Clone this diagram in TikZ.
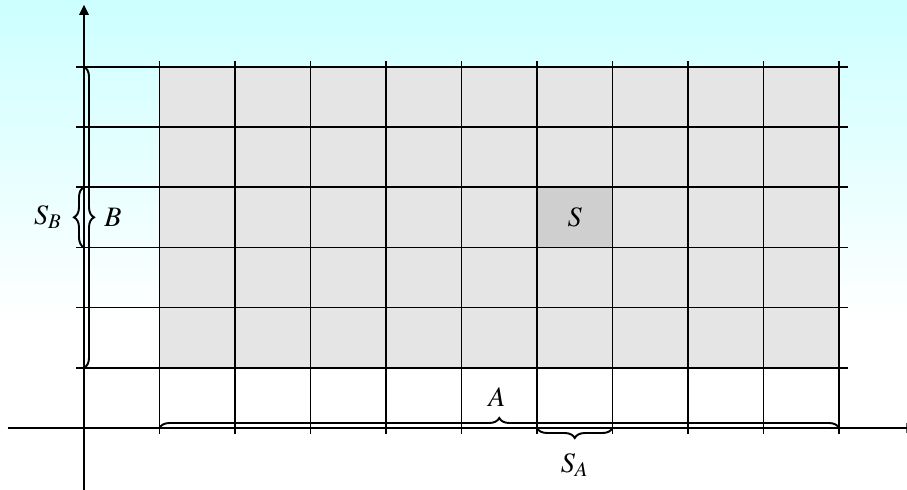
\documentclass[tikz,border=0pt]{standalone}
\usepackage{mathptmx}
\usetikzlibrary{decorations.pathreplacing,arrows.meta}
\begin{document}
\begin{tikzpicture}[x=1.51cm,y=1.204cm,
		gridline/.style={line width=0.8pt},
		axisline/.style={line width=0.8pt},
		bracedeco/.style={decorate,decoration={brace,amplitude=5.7pt},line width=1.1pt},
		lab/.style={font=\fontsize{16}{18}\selectfont}]
		\useasboundingbox (-1.1126,-1.0133) rectangle (10.9007,7.1096);
		\clip (-1.1126,-1.0133) rectangle (10.9007,7.1096);
		\fill[top color=cyan!20,bottom color=white] (-1.1126,1.8) rectangle (10.9007,7.1096);
		\begin{scope}
			\fill[black!10] (1,1) rectangle (10,6);
			\fill[black!19] (6,3) rectangle (7,4);
		\end{scope}
		\foreach \i in {1,...,10}
			\draw[gridline] (\i,-0.1) -- (\i,6.1);
		\foreach \j in {1,...,6}
			\draw[gridline] (-0.1,\j) -- (10.12,\j);
		% axes
		\coordinate (xstart) at (-1.01,0);
		\coordinate (xend) at (11.025,0);
		\coordinate (ystart) at (0,-1.1);
		\coordinate (yend) at (0,7.03);
		\draw[axisline,-{Triangle[length=5.7pt,width=5.4pt]}] (xstart) -- (xend);
		\draw[axisline,-{Triangle[length=5.7pt,width=5.4pt]}] (ystart) -- (yend);
		% braces
		\draw[bracedeco] (0,6) -- (0,1);
		\draw[bracedeco] (0,3) -- (0,4);
		\draw[bracedeco] (1,0) -- (10,0);
		\draw[bracedeco] (7,0) -- (6,0);
			\node[lab] (sb) at (-0.477,3.5) {$S_B$};
			\node[lab] (b) at (0.384,3.5) {$B$};
			\node[lab] (a) at (5.47,0.515) {$A$};
			\node[lab] (sa) at (6.5,-0.61) {$S_A$};
			\node[lab] (s) at (6.5,3.5) {$S$};
	\end{tikzpicture}
\end{document}
